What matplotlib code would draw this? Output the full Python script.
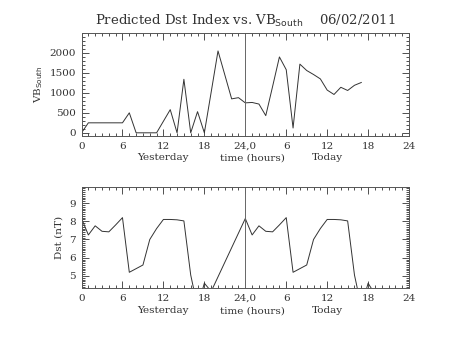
import matplotlib
matplotlib.use("Agg")
import matplotlib.pyplot as plt
from matplotlib.ticker import MultipleLocator

# VB_South, hourly from start of yesterday
vb_hours = [0, 1, 2, 3, 4, 5, 6, 7, 8, 9, 10, 11, 12, 13, 14, 15, 16, 17, 18, 19, 20,
            21, 22, 23, 24, 25, 26, 27, 28, 29, 30, 31, 32, 33, 34, 35, 36, 37, 38, 39, 40, 41]
vb_values = [0, 250, 250, 250, 250, 250, 250, 500, 0, 0, 0, 0, 290, 580, 0, 1340, 0, 530, 0, 1020, 2050,
             1450, 850, 880, 750, 760, 720, 430, 1160, 1900, 1580, 120, 1720, 1560, 1460, 1350, 1070, 960,
             1140, 1060, 1190, 1260]

# Predicted Dst
dst_hours = [0, 1, 2, 3, 4, 5, 6, 7, 8, 9, 10, 11, 12, 13, 14, 15, 16, 17, 18, 19,
             24, 25, 26, 27, 28, 29, 30, 31, 32, 33, 34, 35, 36, 37, 38, 39, 40, 41, 42, 43]
dst_values = [8.15, 7.25, 7.75, 7.45, 7.42, 7.8, 8.2, 5.2, 5.4, 5.6, 7.0, 7.6, 8.1, 8.1, 8.08, 8.02, 5.05, 3.3, 4.6, 4.15,
              8.15, 7.25, 7.75, 7.45, 7.42, 7.8, 8.2, 5.2, 5.4, 5.6, 7.0, 7.6, 8.1, 8.1, 8.08, 8.02, 5.05, 3.3, 4.6, 4.0]

x_ticks = [0, 6, 12, 18, 24, 30, 36, 42, 48]
x_ticklabels = ["0", "6", "12", "18", "24,0", "6", "12", "18", "24"]

FONT = "DejaVu Serif"
INK = "#333333"

plt.rcParams["font.family"] = FONT
plt.rcParams["font.size"] = 7

fig = plt.figure(figsize=(4.53, 3.40), dpi=100, facecolor="white")
ax_vb = fig.add_axes([0.180, 0.600, 0.723, 0.303])
ax_dst = fig.add_axes([0.180, 0.152, 0.723, 0.299])


def style_axis(ax, label_y):
    ax.set_xlim(0, 48)
    ax.set_xticks(x_ticks)
    ax.set_xticklabels(x_ticklabels)
    ax.xaxis.set_minor_locator(MultipleLocator(1))
    ax.tick_params(which="both", direction="in", top=True, right=True, colors=INK,
                   width=0.6, labelsize=7.5, pad=4)
    ax.tick_params(which="major", length=5)
    ax.tick_params(which="minor", length=2.5)
    for s in ax.spines.values():
        s.set_color("#555555")
        s.set_linewidth(0.7)
    ax.axvline(24, color="#666666", lw=0.7)
    trans = ax.get_xaxis_transform()
    for xpos, txt in ((12, "Yesterday"), (25, "time (hours)"), (36, "Today")):
        ax.text(xpos, label_y, txt, transform=trans, ha="center", va="baseline", fontsize=7.5, color=INK)


ax_vb.plot(vb_hours, vb_values, color=INK, lw=0.7)
ax_vb.set_ylim(-80, 2500)
ax_vb.set_yticks([0, 500, 1000, 1500, 2000])
ax_vb.yaxis.set_minor_locator(MultipleLocator(100))
ax_vb.set_ylabel(r"VB$_{\mathrm{South}}$", fontsize=7.5, color=INK, labelpad=3)
style_axis(ax_vb, -0.235)
ax_vb.set_title(r"Predicted Dst Index vs. VB$_{\mathrm{South}}$    06/02/2011", fontsize=9.5, color=INK, pad=6)

ax_dst.plot(dst_hours, dst_values, color=INK, lw=0.7)
ax_dst.set_ylim(4.32, 9.9)
ax_dst.set_yticks([5, 6, 7, 8, 9])
ax_dst.yaxis.set_minor_locator(MultipleLocator(0.1))
ax_dst.set_ylabel("Dst (nT)", fontsize=7.5, color=INK, labelpad=4)
style_axis(ax_dst, -0.245)

fig.savefig("out.png", dpi=100, facecolor="white")
plt.close(fig)
